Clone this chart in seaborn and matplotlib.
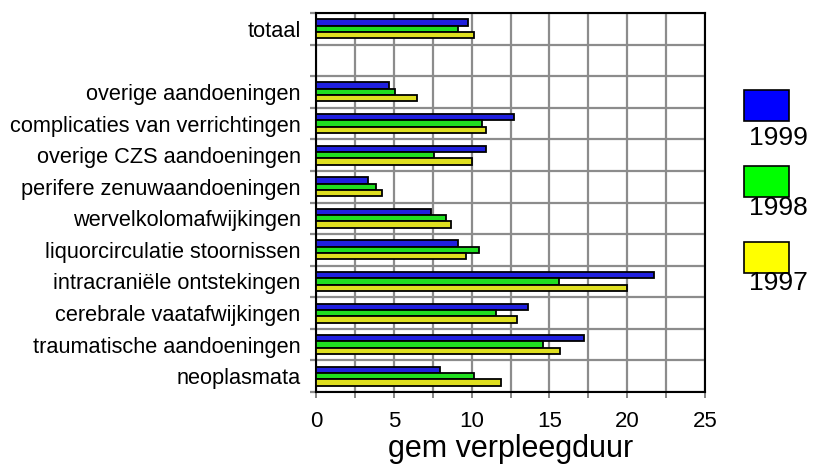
import numpy as np
import pandas as pd
import matplotlib
matplotlib.use("Agg")
import matplotlib.pyplot as plt
from matplotlib.patches import Rectangle
from matplotlib.ticker import MultipleLocator, FixedLocator
import seaborn as sns

# Categories top to bottom (blank slot separates the total from the details)
categories = [
    "totaal",
    " ",
    "overige aandoeningen",
    "complicaties van verrichtingen",
    "overige CZS aandoeningen",
    "perifere zenuwaandoeningen",
    "wervelkolomafwijkingen",
    "liquorcirculatie stoornissen",
    "intracraniële ontstekingen",
    "cerebrale vaatafwijkingen",
    "traumatische aandoeningen",
    "neoplasmata",
]
years = ["1999", "1998", "1997"]

# gem verpleegduur per category (blank slot has no data)
values_1999 = [9.8, None, 4.7, 12.75, 10.95, 3.35, 7.4, 9.15, 21.75, 13.65, 17.25, 8.0]
values_1998 = [9.15, None, 5.05, 10.7, 7.6, 3.85, 8.35, 10.45, 15.6, 11.6, 14.6, 10.15]
values_1997 = [10.15, None, 6.5, 10.95, 10.05, 4.25, 8.65, 9.65, 20.0, 12.9, 15.7, 11.9]

colors = {"1999": "#0000FF", "1998": "#00FF00", "1997": "#FFFF00"}

rows = []
for year, vals in zip(years, [values_1999, values_1998, values_1997]):
    for cat, v in zip(categories, vals):
        if v is not None:
            rows.append({"categorie": cat, "jaar": year, "duur": v})
df = pd.DataFrame(rows)

sns.set_style("white")
plt.rcParams["font.family"] = ["Liberation Sans", "DejaVu Sans"]
plt.rcParams["text.color"] = "black"
plt.rcParams["axes.labelcolor"] = "black"
plt.rcParams["xtick.labelcolor"] = "black"
plt.rcParams["ytick.labelcolor"] = "black"

fig = plt.figure(figsize=(8.19, 4.68), dpi=100)
ax = fig.add_axes([316 / 819, 1 - 392 / 468, (705 - 316) / 819, (392 - 13) / 468])

sns.barplot(
    data=df, y="categorie", x="duur", hue="jaar",
    order=categories, hue_order=years, palette=colors,
    orient="h", width=0.6, edgecolor="black", linewidth=1.3,
    errorbar=None, legend=False, ax=ax, zorder=3,
)

n = len(categories)
ax.set_xlim(0, 25)
ax.set_ylim(n - 0.5, -0.5)

# Grid: vertical lines every 2.5, horizontal lines between categories
ax.xaxis.set_major_locator(MultipleLocator(5))
ax.xaxis.set_minor_locator(MultipleLocator(2.5))
ax.yaxis.set_minor_locator(FixedLocator(np.arange(-0.5, n, 1.0)))
ax.grid(True, which="both", axis="x", color="#8c8c8c", linewidth=1.6, zorder=0)
ax.grid(True, which="minor", axis="y", color="#8c8c8c", linewidth=1.6, zorder=0)
ax.set_axisbelow(True)

for s in ax.spines.values():
    s.set_color("black")
    s.set_linewidth(1.5)
    s.set_visible(True)

ax.tick_params(axis="x", which="both", direction="out", length=4, width=1.2,
               color="#707070", bottom=True, pad=10, labelsize=16)
ax.tick_params(axis="y", which="major", length=0, pad=11, labelsize=15.7)
ax.tick_params(axis="y", which="minor", direction="out", length=4.5, width=1.6,
               color="#8c8c8c", left=True)
ax.set_xticks([0, 5, 10, 15, 20, 25])
ax.set_xticklabels(["0", "5", "10", "15", "20", "25"])

ax.set_ylabel("")
ax.set_xlabel("gem verpleegduur", fontsize=22, labelpad=1)

# Legend: colour boxes with the year beneath each one
box_tops = [90, 166, 242]
label_centres = [138, 208, 283]
for year, top, lab_y in zip(years, box_tops, label_centres):
    fig.patches.append(Rectangle((744 / 819, 1 - (top + 31) / 468), 45 / 819, 31 / 468,
                                 transform=fig.transFigure, facecolor=colors[year],
                                 edgecolor="black", linewidth=1.2))
    fig.text(749 / 819, 1 - lab_y / 468, year, fontsize=19, ha="left", va="center")

fig.savefig("out.png", dpi=100)
